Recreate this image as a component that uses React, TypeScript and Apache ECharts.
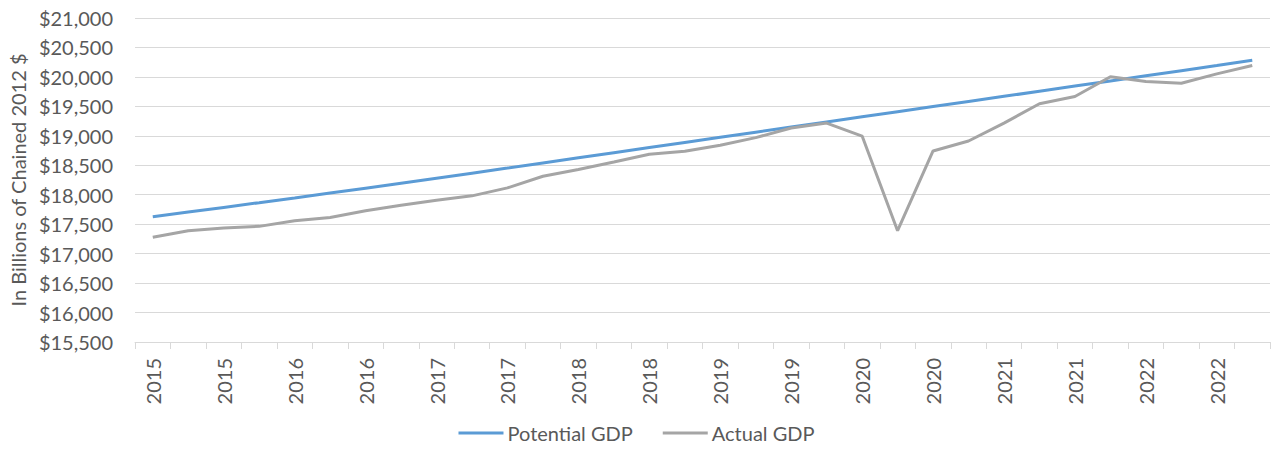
import React, { useEffect, useRef } from "react";
import * as echarts from "echarts";

const quarters = [
  "2015 Q1", "2015 Q2", "2015 Q3", "2015 Q4",
  "2016 Q1", "2016 Q2", "2016 Q3", "2016 Q4",
  "2017 Q1", "2017 Q2", "2017 Q3", "2017 Q4",
  "2018 Q1", "2018 Q2", "2018 Q3", "2018 Q4",
  "2019 Q1", "2019 Q2", "2019 Q3", "2019 Q4",
  "2020 Q1", "2020 Q2", "2020 Q3", "2020 Q4",
  "2021 Q1", "2021 Q2", "2021 Q3", "2021 Q4",
  "2022 Q1", "2022 Q2", "2022 Q3", "2022 Q4",
];

const potentialGDP = [
  17626, 17705, 17785, 17865, 17946, 18028, 18111, 18195,
  18280, 18366, 18452, 18539, 18626, 18713, 18800, 18887,
  18974, 19061, 19148, 19235, 19322, 19409, 19496, 19583,
  19670, 19757, 19844, 19931, 20018, 20105, 20192, 20282,
];

const actualGDP = [
  17277, 17389, 17434, 17463, 17558, 17615, 17727, 17823,
  17908, 17981, 18116, 18314, 18428, 18556, 18687, 18737,
  18839, 18969, 19132, 19216, 18996, 17389, 18743, 18912,
  19216, 19545, 19668, 20002, 19922, 19893, 20052, 20193,
];

const yTitle = "In Billions of Chained 2012 $";
const FONT = "Lato, 'Open Sans', sans-serif";
const TEXT = "#595959";
const GRID = "#D9D9D9";
const FS = 20;

export default function App() {
  const ref = useRef<HTMLDivElement>(null);
  useEffect(() => {
    document.body.style.margin = "0";
    if (!ref.current) return;
    const chart = echarts.init(ref.current, undefined, { renderer: "svg" });
    chart.setOption({
      animation: false,
      backgroundColor: "#ffffff",
      textStyle: { fontFamily: FONT, color: TEXT },
      grid: { left: 134, right: 3, top: 18, bottom: 107 },
      legend: {
        bottom: 1,
        left: "center",
        icon: "rect",
        itemWidth: 45,
        itemHeight: 3,
        itemGap: 30,
        textStyle: { fontFamily: FONT, fontSize: FS, color: TEXT, padding: [0, 0, 0, -1] },
        data: ["Potential GDP", "Actual GDP"],
      },
      xAxis: {
        type: "category",
        data: quarters,
        boundaryGap: true,
        axisLine: { show: true, lineStyle: { color: GRID, width: 1 } },
        axisTick: { show: true, interval: 0, length: 7, lineStyle: { color: GRID } },
        axisLabel: {
          interval: 1,
          rotate: 90,
          margin: 16,
          fontFamily: FONT,
          fontSize: FS,
          color: TEXT,
          formatter: (v: string) => v.slice(0, 4),
        },
        splitLine: { show: false },
      },
      yAxis: {
        type: "value",
        min: 15500,
        max: 21000,
        interval: 500,
        name: yTitle,
        nameLocation: "middle",
        nameRotate: 90,
        nameGap: 106,
        nameTextStyle: { fontFamily: FONT, fontSize: FS, color: TEXT },
        axisLine: { show: false },
        axisTick: { show: false },
        axisLabel: {
          margin: 22,
          fontFamily: FONT,
          fontSize: FS,
          color: TEXT,
          formatter: (v: number) => "$" + v.toLocaleString("en-US"),
        },
        splitLine: { show: true, lineStyle: { color: GRID, width: 1 } },
      },
      series: [
        {
          name: "Potential GDP",
          type: "line",
          data: potentialGDP,
          symbol: "none",
          lineStyle: { color: "#5B9BD5", width: 3 },
          itemStyle: { color: "#5B9BD5" },
        },
        {
          name: "Actual GDP",
          type: "line",
          data: actualGDP,
          symbol: "none",
          lineStyle: { color: "#A5A5A5", width: 3 },
          itemStyle: { color: "#A5A5A5" },
        },
      ],
    });
    return () => chart.dispose();
  }, []);
  return <div ref={ref} style={{ width: 1273, height: 449 }} />;
}
